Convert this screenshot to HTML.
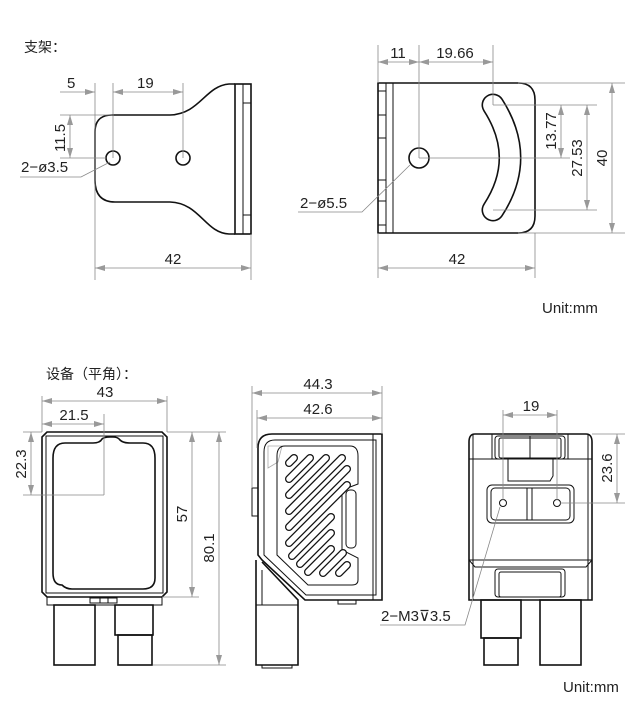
<!DOCTYPE html>
<html><head><meta charset="utf-8"><style>
html,body{margin:0;padding:0;background:#fff;}
svg{display:block;}
text{font-family:"Liberation Sans","Noto Sans CJK SC",sans-serif;fill:#222;}
.d{stroke:#888;stroke-width:0.8;fill:none;}
.o{stroke:#111;stroke-width:1.6;fill:none;}
.t{stroke:#111;stroke-width:1;fill:none;}
</style></head><body>
<svg width="643" height="715" viewBox="0 0 643 715" xmlns="http://www.w3.org/2000/svg">
<defs>
<marker id="a" viewBox="0 0 10 6" refX="10" refY="3" markerWidth="10" markerHeight="6" orient="auto-start-reverse" markerUnits="userSpaceOnUse"><path d="M0,0 L10,3 L0,6z" fill="#999"/></marker>
</defs>

<!-- titles -->
<text x="24" y="52" font-size="14">支架：</text>
<text x="46" y="379" font-size="14">设备（平角）：</text>
<text x="542" y="313" font-size="15">Unit:mm</text>
<text x="563" y="692" font-size="15">Unit:mm</text>

<!-- ========== Bracket 1 ========== -->
<path class="o" d="M235,84 L229,84 C205,86 200,114 170,115 L112,115 Q95,115 95,132 L95,180 Q95,202 115,202 L170,202 C200,203 205,233 229,234 L235,234"/>
<rect class="o" x="235" y="84" width="16" height="150"/>
<line class="t" x1="243" y1="84" x2="243" y2="234"/>
<line class="t" x1="243" y1="103" x2="251" y2="103"/>
<line class="t" x1="243" y1="215" x2="251" y2="215"/>
<circle class="o" cx="113" cy="158" r="7"/>
<circle class="o" cx="183" cy="158" r="7"/>
<line class="d" x1="95" y1="83" x2="95" y2="280"/>
<line class="d" x1="113" y1="83" x2="113" y2="158"/>
<line class="d" x1="183" y1="83" x2="183" y2="158"/>
<line class="d" x1="251" y1="234" x2="251" y2="280"/>
<line class="d" x1="60" y1="92" x2="95" y2="92" marker-end="url(#a)"/>
<line class="d" x1="113" y1="92" x2="183" y2="92" marker-start="url(#a)" marker-end="url(#a)"/>
<text x="67" y="88" font-size="15">5</text>
<text x="137" y="88" font-size="15">19</text>
<line class="d" x1="60" y1="115" x2="112" y2="115"/>
<line class="d" x1="60" y1="158" x2="106" y2="158"/>
<line class="d" x1="70" y1="115" x2="70" y2="158" marker-start="url(#a)" marker-end="url(#a)"/>
<text transform="translate(65,138) rotate(-90)" font-size="15" text-anchor="middle">11.5</text>
<text x="21" y="172" font-size="15">2−ø3.5</text>
<path class="d" d="M20,177 L81,177 L110,162"/>
<line class="d" x1="95" y1="268" x2="251" y2="268" marker-start="url(#a)" marker-end="url(#a)"/>
<text x="173" y="264" font-size="15" text-anchor="middle">42</text>

<!-- ========== Bracket 2 ========== -->
<path class="o" d="M378,83 L518,83 Q535,83 535,100 L535,216 Q535,233 518,233 L378,233Z"/>
<line class="t" x1="386" y1="83" x2="386" y2="233"/>
<line class="t" x1="393" y1="83" x2="393" y2="233"/>
<g class="t"><line x1="378" y1="91" x2="386" y2="91"/><line x1="378" y1="115" x2="386" y2="115"/><line x1="378" y1="138" x2="386" y2="138"/><line x1="378" y1="180" x2="386" y2="180"/><line x1="378" y1="201" x2="386" y2="201"/><line x1="378" y1="225" x2="386" y2="225"/></g>
<circle class="o" cx="419" cy="158" r="10"/>
<path d="M493,105 Q527,158 493,210" fill="none" stroke="#111" stroke-width="23" stroke-linecap="round"/>
<path d="M493,105 Q527,158 493,210" fill="none" stroke="#fff" stroke-width="19.8" stroke-linecap="round"/>
<line class="d" x1="378" y1="45" x2="378" y2="83"/>
<line class="d" x1="419" y1="45" x2="419" y2="158"/>
<line class="d" x1="493" y1="45" x2="493" y2="105"/>
<line class="d" x1="378" y1="233" x2="378" y2="278"/>
<line class="d" x1="535" y1="233" x2="535" y2="278"/>
<line class="d" x1="378" y1="62" x2="419" y2="62" marker-start="url(#a)" marker-end="url(#a)"/>
<line class="d" x1="419" y1="62" x2="493" y2="62" marker-start="url(#a)" marker-end="url(#a)"/>
<text x="398" y="58" font-size="15" text-anchor="middle">11</text>
<text x="455" y="58" font-size="15" text-anchor="middle">19.66</text>
<line class="d" x1="493" y1="105" x2="597" y2="105"/>
<line class="d" x1="419" y1="158" x2="570" y2="158"/>
<line class="d" x1="493" y1="210" x2="597" y2="210"/>
<line class="d" x1="518" y1="83" x2="625" y2="83"/>
<line class="d" x1="518" y1="233" x2="625" y2="233"/>
<line class="d" x1="561" y1="105" x2="561" y2="158" marker-start="url(#a)" marker-end="url(#a)"/>
<line class="d" x1="587" y1="105" x2="587" y2="210" marker-start="url(#a)" marker-end="url(#a)"/>
<line class="d" x1="612" y1="83" x2="612" y2="233" marker-start="url(#a)" marker-end="url(#a)"/>
<text transform="translate(556,131) rotate(-90)" font-size="15" text-anchor="middle">13.77</text>
<text transform="translate(582,158) rotate(-90)" font-size="15" text-anchor="middle">27.53</text>
<text transform="translate(607,158) rotate(-90)" font-size="15" text-anchor="middle">40</text>
<text x="300" y="208" font-size="15">2−ø5.5</text>
<path class="d" d="M298,212 L362,212 L410,165"/>
<line class="d" x1="378" y1="268" x2="535" y2="268" marker-start="url(#a)" marker-end="url(#a)"/>
<text x="457" y="264" font-size="15" text-anchor="middle">42</text>

<!-- ========== Device front ========== -->
<path class="o" d="M47,432 L162,432 L167,437 L167,592 L162,597 L47,597 L42,592 L42,437Z"/>
<rect class="t" x="46" y="436" width="117" height="157"/>
<path class="o" d="M65,443 L93,443 Q100,443 102,439 Q104,437 110,437 L113,437 Q118,437 120,440 Q123,443 130,443 L143,443 Q155,443 155,458 L155,578 Q155,589 143,589 L72,589 Q66,589 62,585 Q53,585 53,573 L53,458 Q53,443 65,443Z"/>
<rect class="t" x="47" y="597" width="115" height="8"/>
<rect class="t" x="90" y="598" width="27" height="5"/>
<line class="t" x1="100" y1="598" x2="100" y2="603"/><line class="t" x1="108" y1="598" x2="108" y2="603"/>
<rect class="o" x="54" y="605" width="41" height="60"/>
<rect class="o" x="115" y="605" width="38" height="30"/>
<rect class="o" x="118" y="635" width="34" height="30"/>
<line class="d" x1="42" y1="396" x2="42" y2="432"/>
<line class="d" x1="167" y1="396" x2="167" y2="432"/>
<line class="d" x1="104" y1="414" x2="104" y2="495"/>
<line class="d" x1="42" y1="401" x2="167" y2="401" marker-start="url(#a)" marker-end="url(#a)"/>
<line class="d" x1="42" y1="424" x2="104" y2="424" marker-start="url(#a)" marker-end="url(#a)"/>
<text x="105" y="397" font-size="15" text-anchor="middle">43</text>
<text x="74" y="420" font-size="15" text-anchor="middle">21.5</text>
<line class="d" x1="23" y1="432" x2="42" y2="432"/>
<line class="d" x1="23" y1="495" x2="104" y2="495"/>
<line class="d" x1="31" y1="432" x2="31" y2="495" marker-start="url(#a)" marker-end="url(#a)"/>
<text transform="translate(26,464) rotate(-90)" font-size="15" text-anchor="middle">22.3</text>
<line class="d" x1="167" y1="432" x2="226" y2="432"/>
<line class="d" x1="162" y1="597" x2="199" y2="597"/>
<line class="d" x1="153" y1="665" x2="226" y2="665"/>
<line class="d" x1="192" y1="432" x2="192" y2="597" marker-start="url(#a)" marker-end="url(#a)"/>
<line class="d" x1="219" y1="432" x2="219" y2="665" marker-start="url(#a)" marker-end="url(#a)"/>
<text transform="translate(187,514) rotate(-90)" font-size="15" text-anchor="middle">57</text>
<text transform="translate(214,548) rotate(-90)" font-size="15" text-anchor="middle">80.1</text>

<!-- ========== Device side ========== -->
<path class="o" d="M272,434 L382,434 L382,600 L305,600 L262,560 L258,555 L258,448 Q258,434 272,434Z"/>
<path class="t" d="M275,440 L376,440 L376,595 L306,595 L264,555 L264,452 Q264,440 275,440Z"/>
<line class="t" x1="373" y1="434" x2="373" y2="600"/>
<path d="M268,446 L282,446 L278,462 L268,468Z" fill="none" stroke="#aaa" stroke-width="0.8"/>
<path class="t" d="M285,446 L350,446 Q358,446 358,456 L358,484 L342,490 L342,550 L358,558 L358,580 Q358,585 352,585 L308,585 L277,555 L277,456 Q277,446 285,446Z"/>
<g stroke-linecap="round" fill="none">
<g id="sl" stroke="#111" stroke-width="8">
<line x1="289" y1="463" x2="294" y2="458"/>
<line x1="289" y1="479" x2="310" y2="458"/>
<line x1="289" y1="495" x2="326" y2="458"/>
<line x1="289" y1="511" x2="342" y2="458"/>
<line x1="289" y1="527" x2="347" y2="469"/>
<line x1="289" y1="543" x2="347" y2="485"/>
<line x1="292" y1="556" x2="331" y2="517"/>
<line x1="300" y1="564" x2="331" y2="533"/>
<line x1="308" y1="572" x2="331" y2="549"/>
<line x1="323" y1="573" x2="343" y2="553"/>
<line x1="339" y1="573" x2="347" y2="565"/>
</g>
<g stroke="#fff" stroke-width="5.5">
<line x1="289" y1="463" x2="294" y2="458"/>
<line x1="289" y1="479" x2="310" y2="458"/>
<line x1="289" y1="495" x2="326" y2="458"/>
<line x1="289" y1="511" x2="342" y2="458"/>
<line x1="289" y1="527" x2="347" y2="469"/>
<line x1="289" y1="543" x2="347" y2="485"/>
<line x1="292" y1="556" x2="331" y2="517"/>
<line x1="300" y1="564" x2="331" y2="533"/>
<line x1="308" y1="572" x2="331" y2="549"/>
<line x1="323" y1="573" x2="343" y2="553"/>
<line x1="339" y1="573" x2="347" y2="565"/>
</g>
</g>
<rect class="t" x="346" y="490" width="10" height="58" rx="4"/>
<rect class="t" x="252" y="488" width="6" height="28"/>
<path class="o" d="M256,560 L256,665 L298,665 L298,600 L262,562"/>
<line class="t" x1="262" y1="570" x2="262" y2="605"/>
<line class="t" x1="256" y1="605" x2="298" y2="605"/>
<rect class="t" x="262" y="665" width="30" height="3"/>
<rect class="t" x="338" y="600" width="18" height="4"/>
<line class="d" x1="252" y1="386" x2="252" y2="488"/>
<line class="d" x1="257" y1="410" x2="257" y2="448"/>
<line class="d" x1="382" y1="386" x2="382" y2="434"/>
<line class="d" x1="252" y1="393" x2="382" y2="393" marker-start="url(#a)" marker-end="url(#a)"/>
<line class="d" x1="257" y1="418" x2="382" y2="418" marker-start="url(#a)" marker-end="url(#a)"/>
<text x="318" y="389" font-size="15" text-anchor="middle">44.3</text>
<text x="318" y="414" font-size="15" text-anchor="middle">42.6</text>

<!-- ========== Device rear ========== -->
<path class="o" d="M475,434 L586,434 Q592,434 592,442 L592,600 L469,600 L469,442 Q469,434 475,434Z"/>
<line class="t" x1="469" y1="459" x2="592" y2="459"/>
<line class="t" x1="473" y1="434" x2="473" y2="600"/>
<line class="t" x1="588" y1="434" x2="588" y2="600"/>
<rect class="t" x="495" y="436" width="70" height="23" rx="3"/>
<rect class="t" x="499" y="438" width="62" height="20" rx="2"/>
<line class="t" x1="530" y1="436" x2="530" y2="459"/>
<path class="t" d="M492,434 L492,459 M568,434 L568,459"/>
<path class="t" d="M508,459 L508,481 L550,481 L553,476 L553,459"/>
<rect class="t" x="487" y="485" width="87" height="38" rx="5"/>
<rect class="t" x="491" y="488" width="79" height="32" rx="4"/>
<line class="t" x1="527" y1="488" x2="527" y2="520"/><line class="t" x1="532" y1="488" x2="532" y2="520"/>
<circle class="t" cx="503" cy="503" r="3.5"/>
<circle class="t" cx="557" cy="503" r="3.5"/>
<line class="t" x1="469" y1="560" x2="592" y2="560"/>
<path class="t" d="M469,560 L475,567 L586,567 L592,560"/>
<rect class="t" x="495" y="569" width="70" height="28" rx="3"/>
<rect class="t" x="499" y="572" width="62" height="25" rx="2"/>
<rect class="o" x="481" y="600" width="40" height="38"/>
<rect class="o" x="484" y="638" width="34" height="27"/>
<rect class="o" x="540" y="600" width="41" height="65"/>
<line class="d" x1="503" y1="410" x2="503" y2="500"/>
<line class="d" x1="557" y1="410" x2="557" y2="500"/>
<line class="d" x1="503" y1="415" x2="557" y2="415" marker-start="url(#a)" marker-end="url(#a)"/>
<text x="531" y="411" font-size="15" text-anchor="middle">19</text>
<line class="d" x1="592" y1="434" x2="625" y2="434"/>
<line class="d" x1="560" y1="503" x2="625" y2="503"/>
<line class="d" x1="617" y1="434" x2="617" y2="503" marker-start="url(#a)" marker-end="url(#a)"/>
<text transform="translate(612,468) rotate(-90)" font-size="15" text-anchor="middle">23.6</text>
<text x="381" y="621" font-size="15">2−M3⊽3.5</text>
<path class="d" d="M380,625 L465,625 L500,507"/>
</svg>
</body></html>
